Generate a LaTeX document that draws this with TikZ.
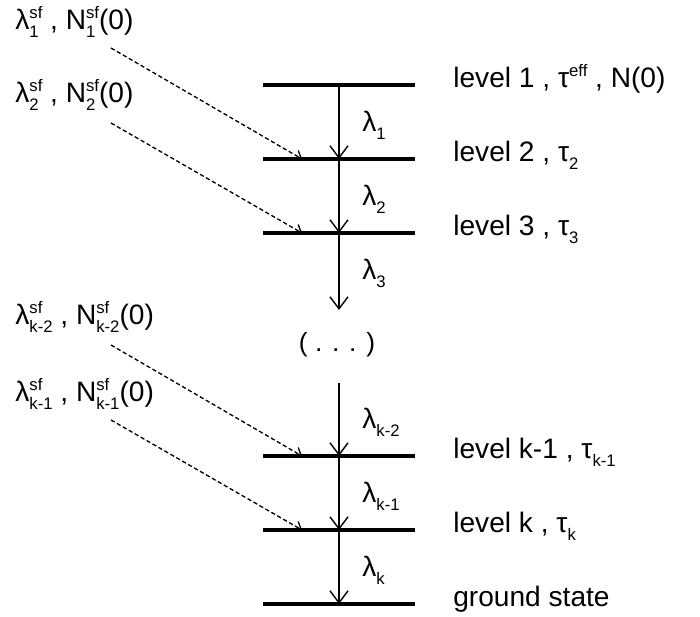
\documentclass[tikz,border=0pt]{standalone}
\usepackage{fontspec}
\setmainfont{Liberation Sans}
\usetikzlibrary{arrows.meta,calc}
% small raised and lowered parts
\newcommand{\smallpart}{\fontsize{9.5}{10}\selectfont}
\newcommand{\sps}[1]{\raisebox{6.8pt}{\smallpart #1}}
\newcommand{\sbs}[1]{\raisebox{-4.5pt}{\smallpart #1}}
\newcommand{\ssb}[2]{{\sbox0{\smallpart #1}\sbox2{\smallpart #2}%
  \rlap{\raisebox{6.8pt}{\usebox0}}\raisebox{-4.5pt}{\usebox2}%
  \ifdim\wd0>\wd2\hspace{\dimexpr\wd0-\wd2\relax}\fi}}
\tikzset{lvl/.style={line width=1.8pt},
  decay/.style={-{Straight Barb[length=2.4mm,width=3.6mm]},line width=0.8pt},
  feed/.style={-{Straight Barb[length=1.3mm,width=2.2mm]},line width=0.75pt,
    dash pattern=on 2.4pt off 1.5pt},
  lab/.style={anchor=base west,inner sep=0pt,font=\fontsize{16}{19}\selectfont}}

\begin{document}
\begin{tikzpicture}[x=0.02cm,y=-0.02cm]
\useasboundingbox (0,0) rectangle (700,617);
% energy levels
\foreach \n/\y in {1/85,2/159,3/233,km/456,k/530,g/604} {
  \coordinate (\n-l) at (263,\y);
  \coordinate (\n-r) at (415,\y);
  \coordinate (\n-m) at (339,\y);
  \draw[lvl] (\n-l) -- (\n-r);}
\coordinate (gap-a) at (339,310);
\coordinate (gap-b) at (339,383);
% decays
\draw[decay] (1-m) -- (2-m);
\draw[decay] (2-m) -- (3-m);
\draw[decay] (3-m) -- (gap-a);
\draw[decay] (gap-b) -- (km-m);
\draw[decay] (km-m) -- (k-m);
\draw[decay] (k-m) -- (g-m);
\node[lab] (l1) at (362,132) {λ\sbs{1}};
\node[lab] (l2) at (362,206) {λ\sbs{2}};
\node[lab] (l3) at (362,280) {λ\sbs{3}};
\node[lab] (lkm2) at (362,429) {λ\sbs{k-2}};
\node[lab] (lkm1) at (362,503) {λ\sbs{k-1}};
\node[lab] (lk) at (362,577) {λ\sbs{k}};
\node[font=\fontsize{15}{18}\selectfont] (dots) at (337,345) {( . . . )};
% level names
\node[lab] (n1) at (453,88) {level 1 , τ\sps{eff} , N(0)};
\node[lab] (n2) at (453,162) {level 2 , τ\sbs{2}};
\node[lab] (n3) at (453,236) {level 3 , τ\sbs{3}};
\node[lab] (nkm) at (453,459) {level k-1 , τ\sbs{k-1}};
\node[lab] (nk) at (453,533) {level k , τ\sbs{k}};
\node[lab] (ng) at (453,607) {ground state};
% side feeding
\node[lab] (s1) at (15,30) {λ\ssb{sf}{1} , N\ssb{sf}{1}(0)};
\node[lab] (s2) at (15,103) {λ\ssb{sf}{2} , N\ssb{sf}{2}(0)};
\node[lab] (skm2) at (15,325) {λ\ssb{sf}{k-2} , N\ssb{sf}{k-2}(0)};
\node[lab] (skm1) at (15,402) {λ\ssb{sf}{k-1} , N\ssb{sf}{k-1}(0)};
\foreach \s/\y/\n in {1/48/2,2/123/3,km2/345/km,km1/420/k} {
  \coordinate (f-\s) at (111,\y);
  \coordinate (e-\n) at ($(\n-l)+(39,0)$);
  \draw[feed] (f-\s) -- (e-\n);}
\end{tikzpicture}
\end{document}
